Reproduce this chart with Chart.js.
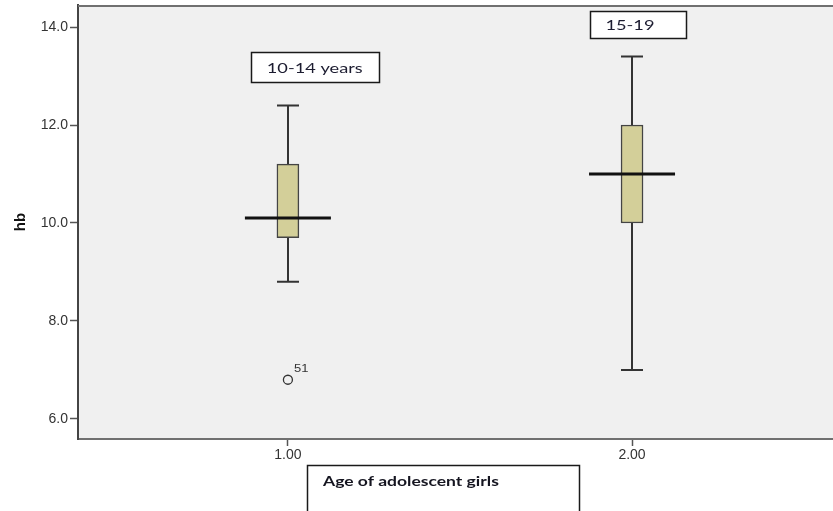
<!DOCTYPE html>
<html>
<head>
<meta charset="utf-8">
<script src="https://cdn.jsdelivr.net/npm/chart.js@4.4.1/dist/chart.umd.min.js"></script>
<style>
  html, body { margin: 0; padding: 0; background: #ffffff; overflow: hidden; }
  #wrap { width: 833px; height: 511px; position: relative; }
  canvas { display: block; }
</style>
</head>
<body>
<div id="wrap"><canvas id="c" width="833" height="511"></canvas></div>
<script>
// Haemoglobin (hb) by age group of adolescent girls
const groups = [1, 2];
const groupNames = ['10-14 years', '15-19'];
const whiskerLow = [8.8, 7.0];
const q1 = [9.7, 10.0];
const median = [10.1, 11.0];
const q3 = [11.2, 12.0];
const whiskerHigh = [12.4, 13.4];
const outlierGroup = [1];
const outlierValue = [6.8];
const outlierCase = ['51'];
const yTicks = [6, 8, 10, 12, 14];
const xTicks = [1, 2];
const yTitle = 'hb';
const xTitle = 'Age of adolescent girls';

const BOX_FILL = '#D3CF99';
const LINE = '#333333';

// floating bars for the inter-quartile boxes
const boxData = groups.map((g, i) => ({ x: g, y: [q1[i], q3[i]] }));
const outlierData = outlierValue.map((v, i) => ({ x: outlierGroup[i], y: v }));

// text drawn slightly widened, like the rest of the output
function wideText(ctx, text, x, y, font, align, sx) {
  ctx.save();
  ctx.font = font;
  ctx.textBaseline = 'middle';
  ctx.textAlign = align;
  ctx.translate(x, y);
  ctx.scale(sx, 1);
  ctx.fillText(text, 0, 0);
  ctx.restore();
}

const boxplotParts = {
  id: 'boxplotParts',
  beforeDraw(chart) {
    const { ctx, chartArea: a } = chart;
    ctx.save();
    ctx.fillStyle = '#F0F0F0';
    ctx.fillRect(a.left, a.top, a.right - a.left, a.bottom - a.top);
    ctx.restore();
  },
  beforeDatasetsDraw(chart) {
    const { ctx, scales: { x, y } } = chart;
    ctx.save();
    ctx.strokeStyle = LINE;
    ctx.lineWidth = 2;
    groups.forEach((g, i) => {
      const px = Math.round(x.getPixelForValue(g));
      const cap = 11;
      const lo = y.getPixelForValue(whiskerLow[i]);
      const hi = y.getPixelForValue(whiskerHigh[i]);
      ctx.beginPath();
      ctx.moveTo(px, lo); ctx.lineTo(px, y.getPixelForValue(q1[i]));
      ctx.moveTo(px, hi); ctx.lineTo(px, y.getPixelForValue(q3[i]));
      ctx.moveTo(px - cap, lo); ctx.lineTo(px + cap, lo);
      ctx.moveTo(px - cap, hi); ctx.lineTo(px + cap, hi);
      ctx.stroke();
    });
    ctx.restore();
  },
  afterDatasetsDraw(chart) {
    const { ctx, scales: { x, y } } = chart;
    ctx.save();
    // medians
    ctx.strokeStyle = '#111111';
    ctx.lineWidth = 3;
    groups.forEach((g, i) => {
      const px = x.getPixelForValue(g);
      const py = y.getPixelForValue(median[i]);
      ctx.beginPath();
      ctx.moveTo(px - 43, py); ctx.lineTo(px + 43, py);
      ctx.stroke();
    });
    // outlier case numbers
    ctx.fillStyle = '#333333';
    outlierValue.forEach((v, i) => {
      const px = x.getPixelForValue(outlierGroup[i]);
      const py = y.getPixelForValue(v);
      wideText(ctx, outlierCase[i], px + 6, py - 10, '10px Arial, "Liberation Sans", sans-serif', 'left', 1.3);
    });
    ctx.restore();
  },
  afterDraw(chart) {
    const { ctx, chartArea: a, scales: { x, y } } = chart;
    ctx.save();
    // top edge of the plot frame
    ctx.strokeStyle = '#707070';
    ctx.lineWidth = 2;
    ctx.beginPath();
    ctx.moveTo(a.left, a.top + 1); ctx.lineTo(a.right, a.top + 1);
    ctx.stroke();

    // group name boxes
    const notes = [
      { gx: 1.078, gy: 13.18, w: 128, h: 30 },
      { gx: 2.017, gy: 14.05, w: 96, h: 27 }
    ];
    notes.forEach((n, i) => {
      const cx = x.getPixelForValue(n.gx);
      const cy = y.getPixelForValue(n.gy);
      const l = Math.round(cx - n.w / 2) + 0.5, t = Math.round(cy - n.h / 2) + 0.5;
      ctx.fillStyle = '#ffffff';
      ctx.fillRect(l, t, n.w, n.h);
      ctx.strokeStyle = '#1a1a1a';
      ctx.lineWidth = 1.5;
      ctx.strokeRect(l, t, n.w, n.h);
      ctx.fillStyle = '#1c1c30';
      const tx = i === 0 ? cx : l + 15;
      wideText(ctx, groupNames[i], tx, cy + 1, '14px Lato', i === 0 ? 'center' : 'left', 1.3);
    });

    // axis title box below the axis
    ctx.fillStyle = '#ffffff';
    ctx.fillRect(307.5, 465.5, 272, 60);
    ctx.strokeStyle = '#1a1a1a';
    ctx.lineWidth = 1.5;
    ctx.strokeRect(307.5, 465.5, 272, 60);
    ctx.fillStyle = '#151520';
    wideText(ctx, xTitle, 323, 481, 'bold 14px Lato', 'left', 1.25);
    ctx.restore();
  }
};

new Chart(document.getElementById('c'), {
  type: 'bar',
  data: {
    datasets: [
      {
        type: 'bar',
        data: boxData,
        backgroundColor: BOX_FILL,
        borderColor: '#444444',
        borderWidth: 1.5,
        borderSkipped: false,
        barThickness: 22,
        grouped: false
      },
      {
        type: 'scatter',
        data: outlierData,
        pointStyle: 'circle',
        pointRadius: 4.5,
        pointBorderWidth: 1.3,
        pointBackgroundColor: 'rgba(0,0,0,0)',
        pointBorderColor: '#333333'
      }
    ]
  },
  options: {
    responsive: false,
    animation: false,
    events: [],
    layout: { autoPadding: false, padding: { top: 5, left: 0, right: 0, bottom: 0 } },
    plugins: { legend: { display: false }, tooltip: { enabled: false } },
    scales: {
      x: {
        type: 'linear',
        offset: false,
        min: 0.39,
        max: 2.584,
        afterBuildTicks(s) { s.ticks = xTicks.map(v => ({ value: v })); },
        afterFit(s) { s.height = 72; s.paddingLeft = 0; s.paddingRight = 0; },
        grid: { offset: false, drawOnChartArea: false, drawTicks: true, tickLength: 7, tickColor: '#555555', tickWidth: 1.5 },
        border: { display: true, color: '#707070', width: 2 },
        ticks: {
          padding: 1,
          color: '#333333',
          font: { family: 'Arial, "Liberation Sans", sans-serif', size: 14 },
          callback: v => Number(v).toFixed(2),
          maxRotation: 0
        }
      },
      y: {
        type: 'linear',
        min: 5.59,
        max: 14.45,
        afterBuildTicks(s) { s.ticks = yTicks.map(v => ({ value: v })); },
        afterFit(s) { s.width = 78; s.paddingTop = 0; s.paddingBottom = 0; },
        grid: { drawOnChartArea: false, drawTicks: true, tickLength: 8, tickColor: '#555555', tickWidth: 1.5 },
        border: { display: true, color: '#444444', width: 2 },
        title: {
          display: true,
          text: yTitle,
          color: '#111111',
          font: { family: 'Arial, "Liberation Sans", sans-serif', size: 15, weight: 'bold' },
          padding: { top: 12, bottom: 0 }
        },
        ticks: {
          padding: 2,
          color: '#333333',
          font: { family: 'Arial, "Liberation Sans", sans-serif', size: 14 },
          callback: v => Number(v).toFixed(1)
        }
      }
    }
  },
  plugins: [boxplotParts]
});
</script>
</body>
</html>
